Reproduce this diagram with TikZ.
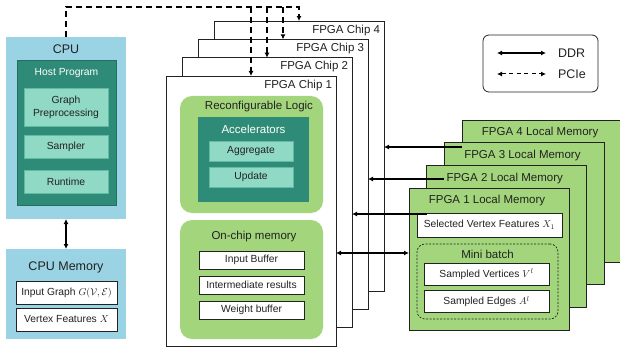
\documentclass[tikz,border=0pt]{standalone}
\usepackage{fontspec}
\setmainfont{Liberation Sans}
\usetikzlibrary{arrows.meta,calc}

\definecolor{cpublue}{HTML}{9AD3E3}
\definecolor{hostteal}{HTML}{2E8B78}
\definecolor{mint}{HTML}{8FD9C5}
\definecolor{mintline}{HTML}{62B9A4}
\definecolor{leaf}{HTML}{A3D67C}
\definecolor{ink}{HTML}{222222}

\newcommand\szBig{\fontsize{12.5}{15}\selectfont}
\newcommand\szMid{\fontsize{11.5}{14}\selectfont}
\newcommand\szSmall{\fontsize{10.3}{12.7}\selectfont}

\begin{document}
\begin{tikzpicture}[x=1pt,y=-1pt,
  every node/.style={inner sep=0pt, outer sep=0pt, text=ink},
  title/.style={font=\szMid},
  bigtitle/.style={font=\szBig},
  whitebox/.style={draw=ink, line width=0.8pt, fill=white, font=\szSmall},
  mintbox/.style={draw=mintline, line width=0.6pt, fill=mint, font=\szSmall},
  chipbox/.style={draw=ink, line width=0.8pt, fill=white,
    minimum width=170, minimum height=270},
  membox/.style={draw=ink, line width=0.8pt, fill=leaf,
    minimum width=160, minimum height=142},
  greenpanel/.style={fill=leaf, rounded corners=12pt, minimum width=143},
  ddr/.style={line width=1.5pt, draw=black},
  pcie/.style={line width=1.4pt, draw=black, dash pattern=on 6pt off 4pt},
  tip/.style={-{Latex[length=5pt,width=5pt]}},
  tips/.style={{Latex[length=5pt,width=5pt]}-{Latex[length=5pt,width=5pt]}},
]
\useasboundingbox (0,0) rectangle (620,350);

% ---------- FPGA chips, back to front ----------
\foreach \k in {4,3,2,1} {
  \pgfmathsetmacro\cx{166+16*(\k-1)+85}
  \pgfmathsetmacro\cy{76-18.33*(\k-1)+135}
  \node[chipbox] (chip\k) at (\cx,\cy) {};
  \node[title, anchor=base east] at ([xshift=-4pt,yshift=-12.3pt]chip\k.north east) {FPGA Chip \k};
}

% ---------- contents of chip 1 ----------
\node[greenpanel, minimum height=117] (logic) at (251.5,154.5) {};
\node[title, anchor=base] (logict) at (259,110) {Reconfigurable Logic};
\node[fill=hostteal, minimum width=111, minimum height=85] (accel) at (253.5,159.5) {};
\node[title, anchor=base, text=white] (accelt) at (253.5,133.5) {Accelerators};
\node[mintbox, minimum width=84, minimum height=20] (agg) at (251,151) {Aggregate};
\node[mintbox, minimum width=84, minimum height=20] (upd) at (251,177) {Update};

\node[greenpanel, minimum height=119] (onchip) at (251.5,279.5) {};
\node[title, anchor=base] (onchipt) at (254,239) {On-chip memory};
\node[whitebox, minimum width=105, minimum height=18] (ibuf) at (251.5,260) {Input Buffer};
\node[whitebox, minimum width=105, minimum height=18] (ires) at (251.5,285) {Intermediate results};
\node[whitebox, minimum width=105, minimum height=18] (wbuf) at (251.5,310) {Weight buffer};

% ---------- PCIe bus from the host to every chip ----------
\coordinate (bus) at (66,7);

% ---------- CPU ----------
\node[fill=cpublue, minimum width=120, minimum height=182] (cpu) at (66,128) {};
\node[bigtitle, anchor=base] (cput) at (66,54) {CPU};
\node[fill=hostteal, draw=hostteal!80!black, line width=0.4pt,
      minimum width=99, minimum height=145] (host) at (66.5,132.5) {};
\node[font=\szSmall, anchor=base, text=white] (hostt) at (66.5,75.5) {Host Program};
\node[mintbox, minimum width=84, minimum height=38, align=center] (prep) at (66,107) {Graph\\Preprocessing};
\node[mintbox, minimum width=84, minimum height=23] (samp) at (66,146.5) {Sampler};
\node[mintbox, minimum width=84, minimum height=23] (rt) at (66,181.5) {Runtime};

% ---------- CPU memory ----------
\node[fill=cpublue, minimum width=120, minimum height=90] (cpumem) at (66,294) {};
\node[bigtitle, anchor=base] (cpumemt) at (66,270) {CPU Memory};
\node[whitebox, minimum width=101, minimum height=23] (ingraph) at (66.5,292.5)
  {Input Graph $G(\mathcal{V},\mathcal{E})$};
\node[whitebox, minimum width=101, minimum height=23] (vfeat) at (66.5,319.5)
  {Vertex Features $X$};

\draw[ddr, tips] (cpu.south) -- (cpumem.north);

% dashed PCIe links, drawn over the stacked chips
\draw[pcie, tip] (cpu.north) |- (bus) -| (chip4.north);
\foreach \k in {1,2,3} {
  \draw[pcie, tip] (chip\k.north |- bus) -- (chip\k.north);
}

% ---------- FPGA local memories, back to front ----------
\foreach \k in {4,3,2,1} {
  \pgfmathsetmacro\mx{409+17.7*(\k-1)+80}
  \pgfmathsetmacro\my{188-22.6*(\k-1)+71}
  \node[membox] (lm\k) at (\mx,\my) {};
  \node[title, anchor=base] at ([xshift=-2pt,yshift=-15.7pt]lm\k.north) {FPGA \k{} Local Memory};
}
\node[whitebox, minimum width=145, minimum height=24] (selx) at (489.5,225)
  {Selected Vertex Features $X_1$};
\node[draw=ink, line width=0.7pt, dash pattern=on 2pt off 1.5pt, rounded corners=8pt,
      minimum width=141, minimum height=75] (mb) at (487.5,281.5) {};
\node[title, anchor=base] (mbt) at (487.5,258.3) {Mini batch};
\node[whitebox, minimum width=125, minimum height=22] (sv) at (486.5,274)
  {Sampled Vertices $V^{l}$};
\node[whitebox, minimum width=125, minimum height=22] (se) at (486.5,301.5)
  {Sampled Edges $A^{l}$};

% ---------- DDR links between chips and their memories ----------
\draw[ddr, tip] (lm4.west |- 0,147) -- (chip4.east |- 0,147);
\draw[ddr, tip] (lm3.west |- 0,179) -- (chip3.east |- 0,179);
\draw[ddr, tip] (lm2.west |- 0,214) -- (chip2.east |- 0,214);
\draw[ddr, tips] (chip1.east |- 0,253) -- (lm1.west |- 0,253);

% ---------- legend ----------
\node[draw=ink, line width=0.8pt, rounded corners=6pt, minimum width=115, minimum height=57]
  (legend) at (540.5,63.5) {};
\coordinate (ddrA) at (497,53);
\coordinate (ddrB) at (546,53);
\coordinate (pcieA) at (497,74);
\coordinate (pcieB) at (546,74);
\draw[ddr, tips] (ddrA) -- (ddrB);
\draw[line width=1pt, dash pattern=on 4pt off 3.5pt, tips] (pcieA) -- (pcieB);
\node[bigtitle, anchor=base west] (ddrt) at (558,57.3) {DDR};
\node[bigtitle, anchor=base west] (pciet) at (558,79) {PCIe};
\end{tikzpicture}
\end{document}
